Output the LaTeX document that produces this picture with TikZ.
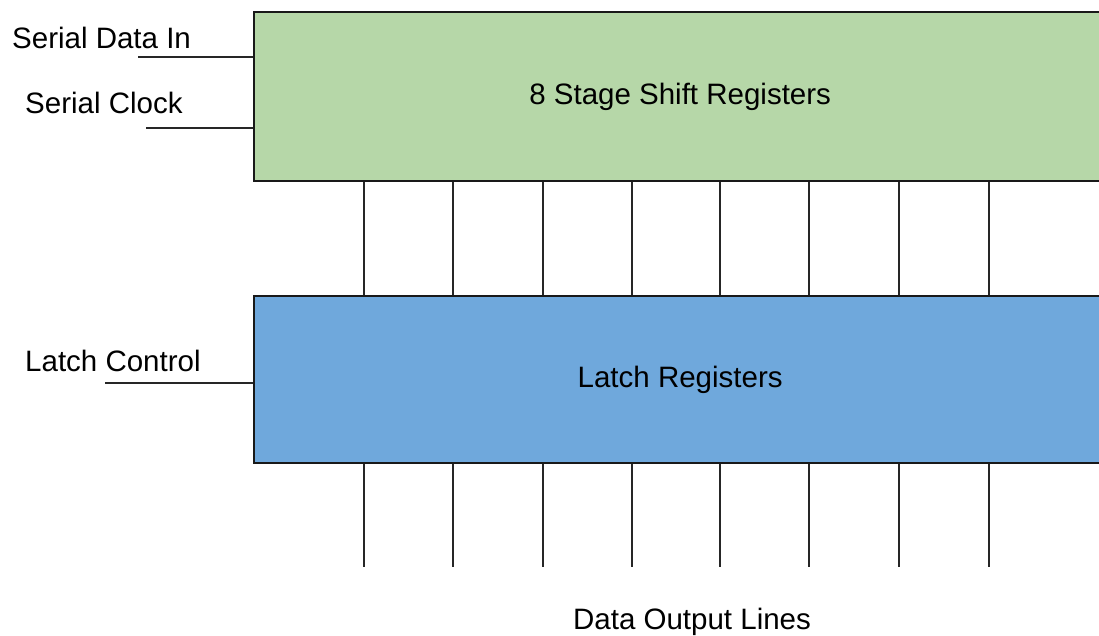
\documentclass[tikz,border=0pt]{standalone}
\usepackage{fontspec}
\setmainfont{Liberation Sans}
\definecolor{regGreen}{HTML}{B6D7A8}
\definecolor{regBlue}{HTML}{6FA8DC}
\begin{document}
\begin{tikzpicture}[x=1pt,y=-1pt,
  block/.style={draw=black!90, line width=2.3pt, minimum width=852pt, anchor=north west, inner sep=0pt, font=\fontsize{29.5}{34}\selectfont},
  lbl/.style={anchor=base west, inner sep=0pt, font=\fontsize{29.5}{34}\selectfont},
  wire/.style={draw=black!85, line width=2.3pt}]
\useasboundingbox (0,0) rectangle (1099,635);
\clip (0,0) rectangle (1099,635);
\fill[white] (0,0) rectangle (1099,635);
% blocks
\node[block, fill=regGreen, minimum height=169.5pt] (shift) at (253,10.5) {8 Stage Shift Registers};
\node[block, fill=regBlue, minimum height=167pt] (latch) at (253,295) {Latch Registers};
% labels
\node[lbl] (sdiL) at (12,48) {Serial Data In};
\node[lbl] (sclkL) at (25,113) {Serial Clock};
\node[lbl] (lcL) at (25,371) {Latch Control};
\node[anchor=base, inner sep=0pt, font=\fontsize{29.5}{34}\selectfont] (outL) at (692,629) {Data Output Lines};
% input wires
\coordinate (sdi) at (138,57);
\coordinate (sclk) at (146,128);
\coordinate (lc) at (105,383);
\draw[wire] (sdi) -- (sdi -| shift.west);
\draw[wire] (sclk) -- (sclk -| shift.west);
\draw[wire] (lc) -- (lc -| latch.west);
% parallel wires
\foreach \x [count=\i] in {364,453,543,632,720,809,899,989} {
  \coordinate (o\i) at (\x,567);
  \draw[wire] (shift.south -| o\i) -- (latch.north -| o\i);
  \draw[wire] (latch.south -| o\i) -- (o\i);
}
\end{tikzpicture}
\end{document}
